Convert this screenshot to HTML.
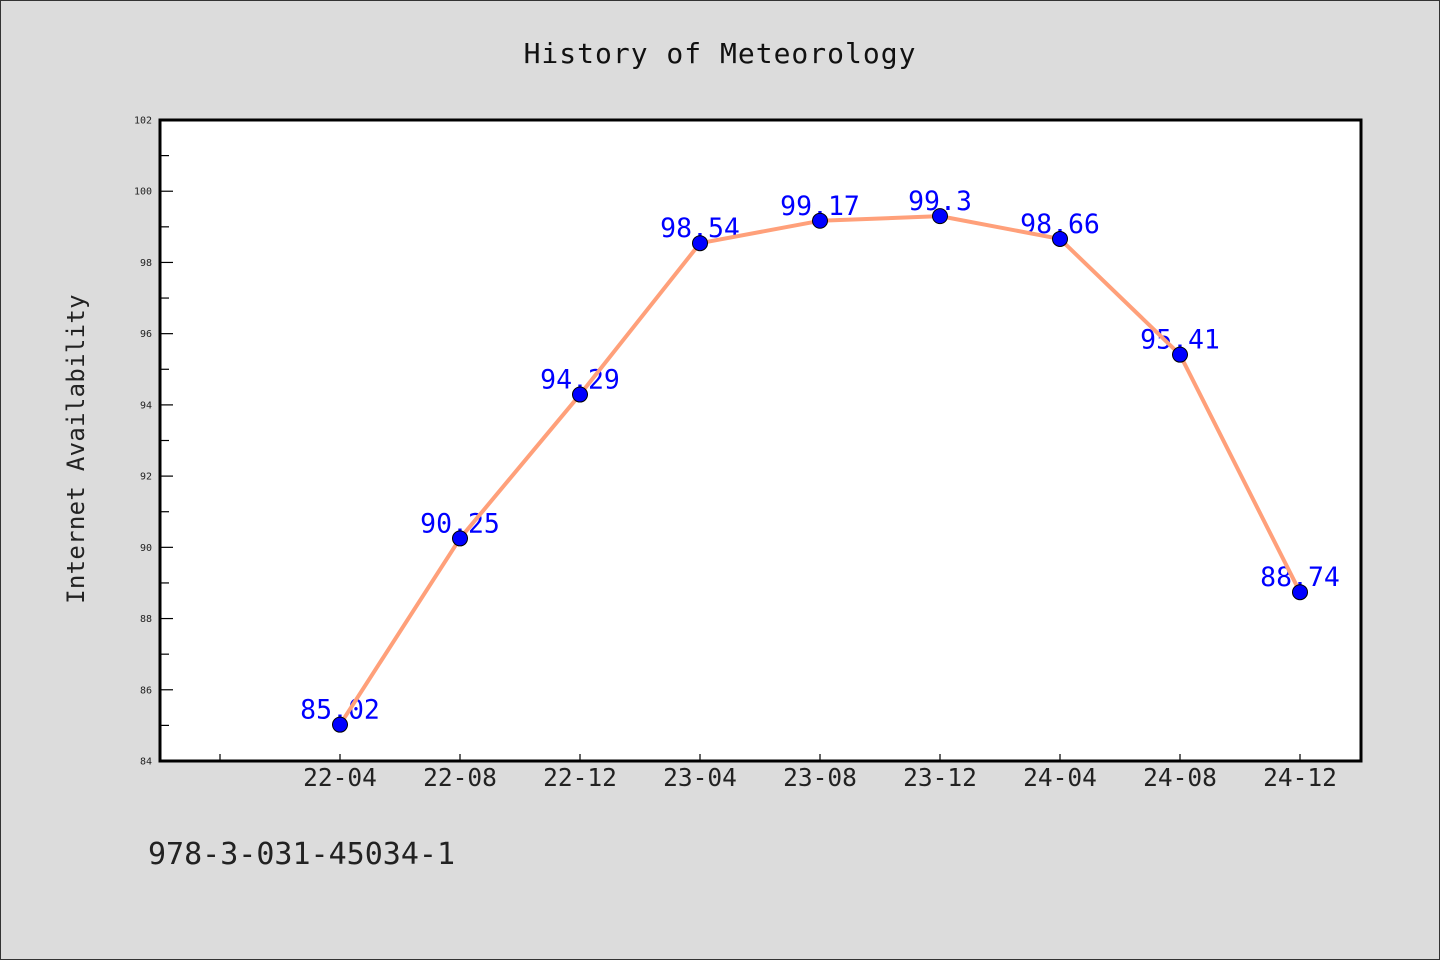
<!DOCTYPE html>
<html><head><meta charset="utf-8"><style>
html,body{margin:0;padding:0;background:#dcdcdc;}
svg{display:block;font-family:"WenQuanYi Zen Hei Mono","DejaVu Sans Mono","Liberation Mono",monospace;}
</style></head><body>
<svg id="chart" width="1440" height="960" xmlns="http://www.w3.org/2000/svg">
<rect x="0.5" y="0.5" width="1439" height="959" fill="#dcdcdc" stroke="#333" stroke-width="1"/>
<text x="720" y="63" text-anchor="middle" font-size="28" letter-spacing="1" fill="#111">History of Meteorology</text>
<text transform="translate(84,449) rotate(-90)" text-anchor="middle" font-size="24" letter-spacing="0.3" fill="#222">Internet Availability</text>
<rect x="160" y="120" width="1201" height="641" fill="#fff"/>
<g id="yaxis"></g>
<g id="xaxis"></g>
<g id="series"></g>
<rect x="160" y="120" width="1201" height="641" fill="none" stroke="#000" stroke-width="3"/>
<text x="148" y="864" font-size="30" fill="#222">978-3-031-45034-1</text>
</svg>
<script>
const categories = ["22-04","22-08","22-12","23-04","23-08","23-12","24-04","24-08","24-12"];
const values = [85.02, 90.25, 94.29, 98.54, 99.17, 99.3, 98.66, 95.41, 88.74];
const valueLabels = ["85.02","90.25","94.29","98.54","99.17","99.3","98.66","95.41","88.74"];
const yTicks = [84,86,88,90,92,94,96,98,100,102];

const NS = "http://www.w3.org/2000/svg";
const yMin = 84, yMax = 102, plotTop = 120, plotBottom = 761;
function yScale(v){ return plotBottom - (v - yMin) / (yMax - yMin) * (plotBottom - plotTop); }
function xScale(i){ return 340 + i * 120; }
function mk(tag, attrs, parent){ const e = document.createElementNS(NS, tag); for (const k in attrs) e.setAttribute(k, attrs[k]); parent.appendChild(e); return e; }

const ya = document.getElementById('yaxis');
yTicks.forEach((t, i) => {
  const y = yScale(t);
  const l = mk('line', {x1:160, x2:173, y1:y, y2:y, stroke:'#000', 'stroke-width':1.2}, ya);
  
  
  const tx = mk('text', {x:152, y:y+3.5, 'text-anchor':'end', 'font-size':10, fill:'#222'}, ya);
  tx.textContent = t;
  
  
  if (i < yTicks.length - 1) {
    const ym = yScale(t + 1);
    const m = mk('line', {x1:160, x2:169, y1:ym, y2:ym, stroke:'#000', 'stroke-width':1.2}, ya);
    
    
  }
});

const xa = document.getElementById('xaxis');
for (let i = -1; i < categories.length; i++) {
  const x = xScale(i);
  const l = mk('line', {x1:x, x2:x, y1:761, y2:754, stroke:'#000', 'stroke-width':1.2}, xa);
  
  
  if (i >= 0) {
    const tx = mk('text', {x:x, y:786, 'text-anchor':'middle', 'font-size':24.5, fill:'#222'}, xa);
    tx.textContent = categories[i];
    
    
  }
}

const s = document.getElementById('series');
values.forEach((v, i) => {
  const tx = mk('text', {x:xScale(i), y:yScale(v)-6, 'text-anchor':'middle', 'font-size':26.5, fill:'#0000ff'}, s);
  tx.textContent = valueLabels[i];
  
  
});
const pts = values.map((v, i) => xScale(i) + ',' + yScale(v)).join(' ');
const pl = mk('polyline', {points:pts, fill:'none', stroke:'#ffa07a', 'stroke-width':4, 'stroke-linejoin':'round'}, s);


values.forEach((v, i) => {
  const c = mk('circle', {cx:xScale(i), cy:yScale(v), r:7.5, fill:'#0000ff', stroke:'#000', 'stroke-width':1}, s);
  
  
});
</script>
</body></html>
